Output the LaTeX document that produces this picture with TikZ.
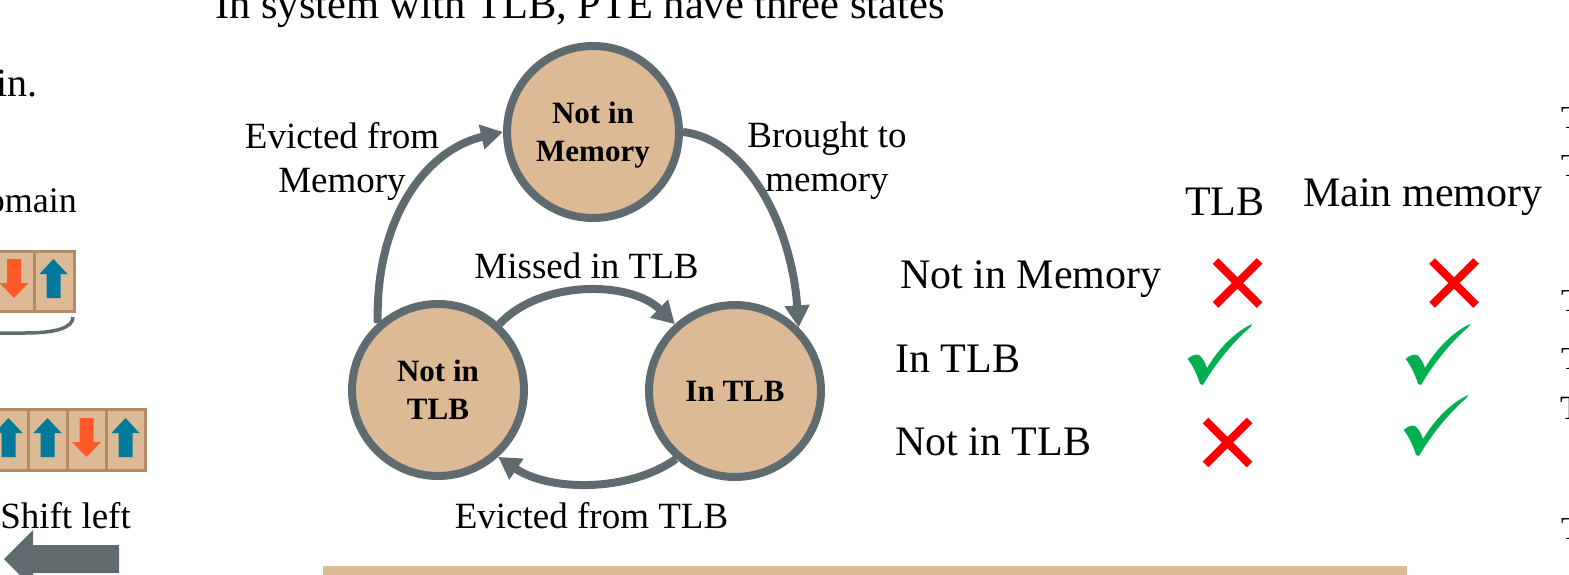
\documentclass[tikz,border=0pt]{standalone}
\usepackage{fontspec}
\setmainfont{Liberation Serif}
\usetikzlibrary{arrows.meta}
\definecolor{tan}{HTML}{DCBA95}
\definecolor{slate}{HTML}{5F6B6E}
\definecolor{cellborder}{HTML}{B58B65}
\definecolor{upblue}{HTML}{00799A}
\definecolor{downorange}{HTML}{FF5A28}
\definecolor{okgreen}{HTML}{00B050}
\definecolor{nored}{HTML}{FF0000}
\tikzset{
  state/.style={circle, draw=slate, fill=tan, line width=8pt, minimum size=172pt,
    inner sep=0pt, align=center, text depth=0pt,
    font=\fontsize{31}{38}\selectfont\bfseries},
  flow/.style={draw=slate, line width=8pt, -{Triangle[length=22pt,width=24pt]}},
  lbl/.style={font=\fontsize{37}{44}\selectfont, inner sep=0pt, align=center},
  tbl/.style={font=\fontsize{42}{50}\selectfont, inner sep=0pt},
  edge/.style={font=\fontsize{32}{38}\selectfont, inner sep=0pt, anchor=north west},
  cell/.style={fill=tan, draw=cellborder, line width=3pt},
  crossmark/.pic={\draw[nored, line width=8pt] (-22,-22) -- (22,22) (-22,22) -- (22,-22);},
  checkmark/.pic={\fill[okgreen] (0.5,35) .. controls (5,31) and (9,30) .. (12,31)
      .. controls (15,33) and (18,38) .. (20,44)
      .. controls (32,24) and (48,8) .. (65,0) -- (64,2.5)
      .. controls (46,18) and (28,40) .. (16,61) -- (13,60)
      .. controls (10,50) and (5,40) .. (0.5,35) -- cycle;},
  uparrow/.pic={\fill[upblue] (0,-19.5) -- (14,-4.5) -- (7,-4.5) -- (7,19.5)
      -- (-7,19.5) -- (-7,-4.5) -- (-14,-4.5) -- cycle;},
  downarrow/.pic={\fill[downorange] (0,19.5) -- (14.5,4.5) -- (7,4.5) -- (7,-19.5)
      -- (-7,-19.5) -- (-7,4.5) -- (-14.5,4.5) -- cycle;},
}
\begin{document}
\begin{tikzpicture}[x=1pt,y=-1pt]
\useasboundingbox (0,0) rectangle (1569,575);
\clip (0,0) rectangle (1569,575);

% heading
\node[tbl, font=\fontsize{42.5}{50}\selectfont, anchor=base west] (title) at (215,19)
  {In system with TLB, PTE have three states};

% left column: bit rows and shift arrow
\node[inner sep=0pt, anchor=base east, font=\fontsize{40}{48}\selectfont] (w1) at (38,97) {in.};
\node[inner sep=0pt, anchor=base east, font=\fontsize{36}{44}\selectfont] (w2) at (77,212) {omain};
\draw[cell] (-6,251.5) rectangle (34,311.5);
\draw[cell] (34,251.5) rectangle (74,311.5);
\pic at (14,278.5) {downarrow};
\pic at (53.5,278.5) {uparrow};
\draw[slate, line width=3.5pt] (-2,333) -- (25,333) .. controls (55,333) and (73,328) .. (73,317);
\draw[cell] (-11,409.5) rectangle (28,470.5);
\draw[cell] (28,409.5) rectangle (67,470.5);
\draw[cell] (67,409.5) rectangle (106,470.5);
\draw[cell] (106,409.5) rectangle (145,470.5);
\pic at (8.5,437.5) {uparrow};
\pic at (47.5,437.5) {uparrow};
\pic at (86.5,437.5) {downarrow};
\pic at (125.5,437.5) {uparrow};
\node[inner sep=0pt, anchor=base east, font=\fontsize{37}{44}\selectfont] (w3) at (131,528) {Shift left};
\fill[slate] (4,559) -- (33,530) -- (33,545) -- (119,545) -- (119,573) -- (33,573) -- (33,588) -- cycle;

% state diagram
\node[state] (nm) at (593,132) {Not in\\Memory};
\node[state] (nt) at (438,390) {Not in\\TLB};
\node[state] (it) at (735,391) {In TLB};

\draw[flow] (nt.132) .. controls (375,220) and (425,150) .. (nm.180);
\draw[flow] (nm.0) .. controls (750,140) and (792,230) .. (it.45);
\draw[flow] (nt.47) .. controls (540,280) and (630,280) .. (it.132);
\draw[flow] (it.229) .. controls (630,492) and (550,492) .. (nt.312);

\node[lbl] (l1) at (342,161) {Evicted from\\Memory};
\node[lbl] (l2) at (827,161) {Brought to\\memory};
\node[lbl, anchor=base] (l3) at (586.5,278) {Missed in TLB};
\node[lbl, anchor=base] (l4) at (591.5,528) {Evicted from TLB};

% state table
\node[tbl, anchor=base west] (hTLB) at (1185,215) {TLB};
\node[tbl, anchor=base west] (hMem) at (1303,206) {Main memory};
\node[tbl, anchor=base west] (r1) at (900,288) {Not in Memory};
\node[tbl, anchor=base west] (r2) at (895,372) {In TLB};
\node[tbl, anchor=base west] (r3) at (895,455) {Not in TLB};
\pic at (1237.5,283) {crossmark};
\pic at (1454,283) {crossmark};
\pic at (1227.5,442.5) {crossmark};
\pic at (1187,324) {checkmark};
\pic at (1405,324) {checkmark};
\pic at (1403,395) {checkmark};

% right column, line starts
\node[edge] (t1) at (1561,107) {T};
\node[edge] (t2) at (1561,155) {T};
\node[edge] (t3) at (1561,290) {T};
\node[edge] (t4) at (1561,348) {T};
\node[edge, font=\fontsize{34}{40}\selectfont] (t5) at (1560,397) {T};
\node[edge] (t6) at (1561,518) {T};

% footer bar
\fill[tan] (323,566) rectangle (1407,580);
\end{tikzpicture}
\end{document}
